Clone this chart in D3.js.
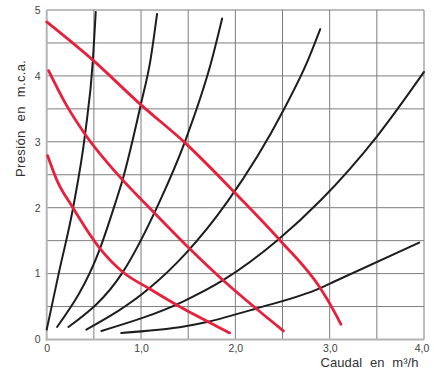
<!DOCTYPE html>
<html>
<head>
    <meta charset="utf-8">
    <title>Curvas de presión</title>
    <script src="https://d3js.org/d3.v7.min.js"></script>
    <style>
        body { margin: 0; background: #fff; }
        text { font-family: "Liberation Sans", Arial, sans-serif; }
    </style>
</head>
<body>
    <script>
        // curvas de la bomba (rojo), de mayor a menor velocidad
        var pumpHigh = [[0, 4.82], [0.49, 4.24], [1.0, 3.56], [1.47, 2.98], [2.0, 2.22], [2.47, 1.51], [2.9, 0.78], [3.05, 0.42], [3.12, 0.23]];
        var pumpMid  = [[0.02, 4.08], [0.2, 3.58], [0.39, 3.15], [0.78, 2.46], [1.06, 2.04], [1.465, 1.45], [1.87, 0.9], [2.22, 0.47], [2.51, 0.13]];
        var pumpLow  = [[0.01, 2.79], [0.12, 2.38], [0.26, 2.04], [0.565, 1.38], [0.81, 1.02], [1.09, 0.77], [1.47, 0.45], [1.71, 0.27], [1.94, 0.1]];

        // curvas de la instalación (negro)
        var system1 = [[0, 0.15], [0.127, 1.0], [0.28, 2.0], [0.41, 3.15], [0.49, 4.24], [0.52, 4.97]];
        var system2 = [[0.11, 0.19], [0.565, 1.38], [0.73, 2.08], [0.8, 2.4], [1.0, 3.58], [1.1, 4.24], [1.17, 4.94]];
        var system3 = [[0.23, 0.19], [0.81, 1.03], [1.18, 2.04], [1.465, 3.0], [1.75, 4.24], [1.86, 4.87]];
        var system4 = [[0.42, 0.15], [1.09, 0.78], [1.47, 1.3], [1.92, 2.1], [2.51, 3.48], [2.77, 4.24], [2.9, 4.71]];
        var system5 = [[0.58, 0.13], [1.45, 0.58], [1.87, 0.9], [2.45, 1.51], [2.91, 2.12], [3.5, 3.08], [4.0, 4.06]];
        var system6 = [[0.79, 0.1], [1.47, 0.2], [1.71, 0.27], [2.22, 0.47], [2.9, 0.78], [3.05, 0.88], [3.95, 1.47]];

        var xTicks = [0, 1, 2, 3, 4];
        var yTicks = [0, 1, 2, 3, 4, 5];
        var xTickLabels = ["0", "1,0", "2,0", "3,0", "4,0"];
        var gridStep = 0.5;

        var width = 434, height = 374;

        var svg = d3.select("body")
                    .append("svg")
                    .attr("width", width)
                    .attr("height", height);

        var x = d3.scaleLinear().domain([0, 4]).range([46.7, 424]);
        var y = d3.scaleLinear().domain([0, 5]).range([339.5, 10]);

        // rejilla
        var gx = d3.range(gridStep, 4 + 0.01, gridStep);
        var gy = d3.range(gridStep, 5 + 0.01, gridStep);

        var grid = svg.append("g").attr("stroke", "#7d7d7d").attr("stroke-width", 1);
        grid.selectAll(".v")
            .data(gx)
            .join("line")
            .attr("x1", d => x(d)).attr("x2", d => x(d))
            .attr("y1", y(0)).attr("y2", y(5));
        grid.selectAll(".h")
            .data(gy)
            .join("line")
            .attr("x1", x(0)).attr("x2", x(4))
            .attr("y1", d => y(d)).attr("y2", d => y(d));

        // ejes
        svg.append("line")
           .attr("x1", x(0)).attr("x2", x(0))
           .attr("y1", y(0) + 1).attr("y2", y(5))
           .attr("stroke", "#b4b4b4").attr("stroke-width", 2);
        svg.append("line")
           .attr("x1", x(0) - 1).attr("x2", x(4))
           .attr("y1", y(0)).attr("y2", y(0))
           .attr("stroke", "#b4b4b4").attr("stroke-width", 2);

        var xAxis = svg.append("g")
                       .attr("transform", "translate(0," + y(0) + ")")
                       .call(d3.axisBottom(x)
                               .tickValues(xTicks)
                               .tickSize(0)
                               .tickPadding(5)
                               .tickFormat((d, i) => xTickLabels[i]));
        xAxis.select(".domain").remove();
        xAxis.selectAll("text")
             .attr("font-size", 10.5)
             .attr("fill", "#444")
             .attr("font-family", "Liberation Sans, Arial, sans-serif")
             .attr("dx", d => d === 4 ? -2.5 : 0);

        var yAxis = svg.append("g")
                       .attr("transform", "translate(" + x(0) + ",0)")
                       .call(d3.axisLeft(y)
                               .tickValues(yTicks)
                               .tickSize(0)
                               .tickPadding(6)
                               .tickFormat(d3.format("d")));
        yAxis.select(".domain").remove();
        yAxis.selectAll("text")
             .attr("font-size", 10.5)
             .attr("fill", "#444")
             .attr("font-family", "Liberation Sans, Arial, sans-serif");

        // curvas
        var line = d3.line()
                     .x(d => x(d[0]))
                     .y(d => y(d[1]))
                     .curve(d3.curveMonotoneX);

        svg.append("g")
           .selectAll("path")
           .data([system1, system2, system3, system4, system5, system6])
           .join("path")
           .attr("d", line)
           .attr("fill", "none")
           .attr("stroke", "#1d1d1d")
           .attr("stroke-width", 2)
           .attr("stroke-linecap", "round");

        svg.append("g")
           .selectAll("path")
           .data([pumpHigh, pumpMid, pumpLow])
           .join("path")
           .attr("d", line)
           .attr("fill", "none")
           .attr("stroke", "#e8203c")
           .attr("stroke-width", 2.8)
           .attr("stroke-linecap", "round");

        // títulos
        svg.append("text")
           .attr("x", 320.5)
           .attr("y", 366.5)
           .attr("font-size", 13)
           .attr("fill", "#333")
           .attr("word-spacing", 4)
           .attr("textLength", 98)
           .attr("lengthAdjust", "spacing")
           .text("Caudal en m³/h");

        svg.append("text")
           .attr("transform", "translate(25,177) rotate(-90)")
           .attr("font-size", 13)
           .attr("fill", "#333")
           .attr("word-spacing", 5)
           .attr("textLength", 117)
           .attr("lengthAdjust", "spacing")
           .text("Presión en m.c.a.");
    </script>
</body>
</html>
